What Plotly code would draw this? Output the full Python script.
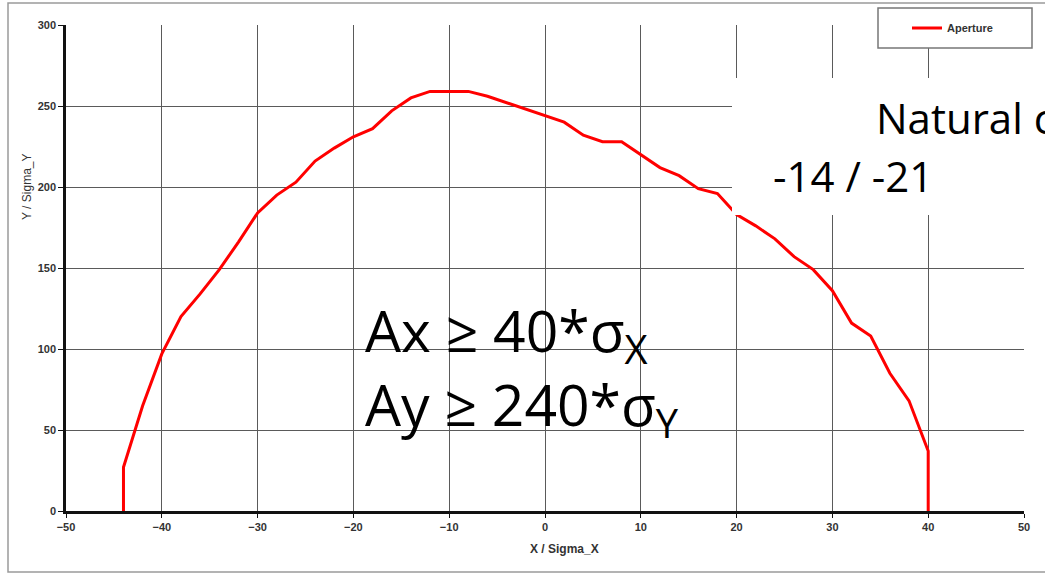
import plotly.graph_objects as go

# Data (X / Sigma_X, Y / Sigma_Y)
x_vals = [-44, -44, -42, -40, -38, -36, -34, -32, -30, -28, -26, -24, -22, -20, -18, -16, -14, -12,
          -10, -8, -6, -4, -2, 0, 2, 4, 6, 8, 10, 12, 14, 16, 18, 20, 22, 24, 26, 28, 30, 32, 34,
          36, 38, 40, 40]
y_vals = [0, 27, 65, 97, 120, 134, 149, 166, 184, 195, 203, 216, 224, 231, 236, 247, 255, 259,
          259, 259, 256, 252, 248, 244, 240, 232, 228, 228, 220, 212, 207, 199, 196, 183, 176, 168, 157, 149, 136, 116, 108,
          85, 68, 37, 0]
x_ticks = [-50, -40, -30, -20, -10, 0, 10, 20, 30, 40, 50]
y_ticks = [0, 50, 100, 150, 200, 250, 300]

W, H = 1045, 574
L, R, T, B = 66, 21, 25, 63
pw, ph = W - L - R, H - T - B

def px(x):
    return (x - L) / pw

def py(y):
    return (H - B - y) / ph

fig = go.Figure()
fig.add_trace(go.Scatter(x=x_vals, y=y_vals, mode="lines", name="Aperture",
                         line=dict(color="#FF0000", width=3)))

tickfont = dict(family="Liberation Sans", size=11, color="#333333", weight="bold")
fig.update_xaxes(range=[-50, 50], tickvals=x_ticks, showgrid=True, gridcolor="#5a5a5a", gridwidth=1,
                 showline=True, linecolor="#111111", linewidth=2.5, ticks="outside", ticklen=4,
                 tickcolor="#111111", tickfont=tickfont, zeroline=False)
fig.update_yaxes(range=[0, 300], tickvals=y_ticks, showgrid=True, gridcolor="#5a5a5a", gridwidth=1,
                 showline=True, linecolor="#111111", linewidth=2.5, ticks="outside", ticklen=5,
                 tickcolor="#111111", tickfont=tickfont, zeroline=False)

shapes = [
    # outer chart frame
    dict(type="rect", xref="paper", yref="paper", x0=px(8), x1=px(1060), y0=py(572), y1=py(3),
         line=dict(color="#9a9a9a", width=1.5), fillcolor="rgba(0,0,0,0)", layer="below"),
    # white text panel over the plot
    dict(type="rect", xref="paper", yref="paper", x0=px(732), x1=px(1060), y0=py(215), y1=py(78),
         line=dict(width=0), fillcolor="white", layer="above"),
    # legend frame
    dict(type="rect", xref="paper", yref="paper", x0=px(878), x1=px(1032), y0=py(48), y1=py(8),
         line=dict(color="#777777", width=1.5), fillcolor="white", layer="above"),
]

big = dict(family="Open Sans", size=57, color="black")
mid = dict(family="Open Sans", size=42, color="black")
annotations = [
    dict(text="Ax ≥ 40*σ<sub>X</sub><br>Ay ≥ 240*σ<sub>Y</sub>", xref="paper", yref="paper",
         x=px(363), y=py(370), align="left",
         xanchor="left", yanchor="middle", showarrow=False, font=big),
    dict(text="Natural chromaticity", xref="paper", yref="paper", x=px(874), y=py(118),
         xanchor="left", yanchor="middle", showarrow=False, font=mid),
    dict(text="-14 / -21", xref="paper", yref="paper", x=px(771), y=py(175),
         xanchor="left", yanchor="middle", showarrow=False, font=mid),
    dict(text="X / Sigma_X", xref="paper", yref="paper", x=px(564), y=py(549),
         xanchor="center", yanchor="middle", showarrow=False,
         font=dict(family="Liberation Sans", size=12, color="#333333", weight="bold")),
    dict(text="Y / Sigma_Y", xref="paper", yref="paper", x=px(27), y=py(187), textangle=-90,
         xanchor="center", yanchor="middle", showarrow=False,
         font=dict(family="Liberation Sans", size=12, color="#333333")),
]

fig.update_layout(
    width=W, height=H, margin=dict(l=L, r=R, t=T, b=B),
    paper_bgcolor="white", plot_bgcolor="white",
    showlegend=True,
    legend=dict(x=px(907), y=py(28), xanchor="left", yanchor="middle",
                bgcolor="rgba(0,0,0,0)", borderwidth=0,
                font=dict(family="Liberation Sans", size=11, color="#333333", weight="bold")),
    shapes=shapes, annotations=annotations,
)

fig.write_html("out.html")
